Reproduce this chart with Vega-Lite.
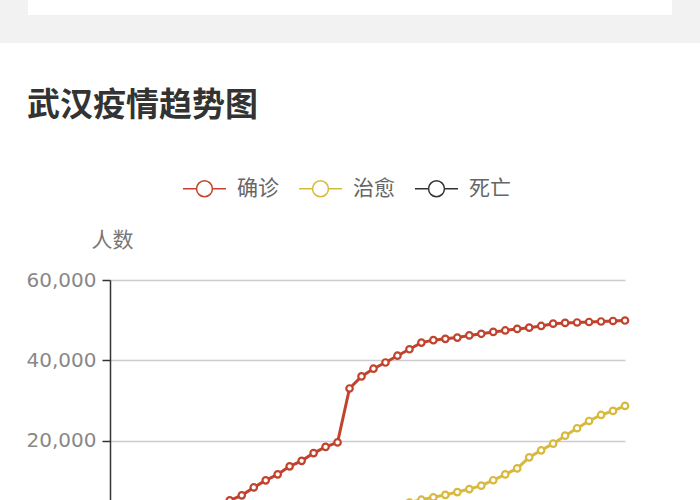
{
  "$schema": "https://vega.github.io/schema/vega-lite/v6.json",
  "background": "white",
  "padding": {"left": 0, "top": -45, "right": 0, "bottom": 0},
  "columns": 1,
  "spacing": 47,
  "resolve": {
    "scale": {"color": "independent", "x": "independent", "y": "independent"},
    "legend": {"color": "independent"}
  },
  "config": {
    "font": "Noto Sans CJK SC",
    "view": {"stroke": null}
  },
  "concat": [
    {
      "width": 672,
      "height": 60,
      "view": {"fill": "white", "stroke": "#f2f2f2", "strokeWidth": 28},
      "data": {"values": [{}]},
      "mark": {"type": "text"},
      "encoding": {"text": {"value": ""}}
    },
    {
      "width": 672,
      "height": 241,
      "view": {"stroke": null},
      "title": {
        "text": "武汉疫情趋势图",
        "anchor": "start",
        "frame": "group",
        "dx": 13,
        "fontSize": 33,
        "fontWeight": "bold",
        "color": "#333333",
        "offset": 43
      },
      "data": {
        "values": [
          {"date": "1.23", "确诊": 495, "治愈": 25, "死亡": 23},
          {"date": "1.24", "确诊": 572, "治愈": 28, "死亡": 38},
          {"date": "1.25", "确诊": 618, "治愈": 31, "死亡": 45},
          {"date": "1.26", "确诊": 698, "治愈": 32, "死亡": 63},
          {"date": "1.27", "确诊": 1590, "治愈": 42, "死亡": 85},
          {"date": "1.28", "确诊": 1905, "治愈": 47, "死亡": 104},
          {"date": "1.29", "确诊": 2261, "治愈": 60, "死亡": 129},
          {"date": "1.30", "确诊": 2639, "治愈": 88, "死亡": 159},
          {"date": "1.31", "确诊": 3215, "治愈": 124, "死亡": 192},
          {"date": "2.1", "确诊": 4109, "治愈": 166, "死亡": 224},
          {"date": "2.2", "确诊": 5142, "治愈": 224, "死亡": 265},
          {"date": "2.3", "确诊": 6384, "治愈": 303, "死亡": 313},
          {"date": "2.4", "确诊": 8351, "治愈": 372, "死亡": 362},
          {"date": "2.5", "确诊": 10117, "治愈": 455, "死亡": 414},
          {"date": "2.6", "确诊": 11618, "治愈": 568, "死亡": 478},
          {"date": "2.7", "确诊": 13603, "治愈": 758, "死亡": 545},
          {"date": "2.8", "确诊": 14982, "治愈": 943, "死亡": 608},
          {"date": "2.9", "确诊": 16902, "治愈": 1206, "死亡": 681},
          {"date": "2.10", "确诊": 18454, "治愈": 1439, "死亡": 748},
          {"date": "2.11", "确诊": 19558, "治愈": 1800, "死亡": 820},
          {"date": "2.12", "确诊": 32994, "治愈": 2169, "死亡": 1016},
          {"date": "2.13", "确诊": 35991, "治愈": 2616, "死亡": 1036},
          {"date": "2.14", "确诊": 37914, "治愈": 3209, "死亡": 1123},
          {"date": "2.15", "确诊": 39462, "治愈": 3708, "死亡": 1233},
          {"date": "2.16", "确诊": 41152, "治愈": 4131, "死亡": 1309},
          {"date": "2.17", "确诊": 42752, "治愈": 4600, "死亡": 1381},
          {"date": "2.18", "确诊": 44412, "治愈": 5300, "死亡": 1497},
          {"date": "2.19", "确诊": 45027, "治愈": 5900, "死亡": 1585},
          {"date": "2.20", "确诊": 45346, "治愈": 6500, "死亡": 1774},
          {"date": "2.21", "确诊": 45660, "治愈": 7200, "死亡": 1856},
          {"date": "2.22", "确诊": 46201, "治愈": 7950, "死亡": 1987},
          {"date": "2.23", "确诊": 46607, "治愈": 8800, "死亡": 2043},
          {"date": "2.24", "确诊": 47071, "治愈": 10150, "死亡": 2085},
          {"date": "2.25", "确诊": 47441, "治愈": 11600, "死亡": 2104},
          {"date": "2.26", "确诊": 47824, "治愈": 13100, "死亡": 2132},
          {"date": "2.27", "确诊": 48137, "治愈": 15850, "死亡": 2169},
          {"date": "2.28", "确诊": 48557, "治愈": 17600, "死亡": 2195},
          {"date": "2.29", "确诊": 49122, "治愈": 19260, "死亡": 2227},
          {"date": "3.1", "确诊": 49315, "治愈": 21250, "死亡": 2251},
          {"date": "3.2", "确诊": 49426, "治愈": 23100, "死亡": 2282},
          {"date": "3.3", "确诊": 49540, "治愈": 24900, "死亡": 2305},
          {"date": "3.4", "确诊": 49671, "治愈": 26400, "死亡": 2328},
          {"date": "3.5", "确诊": 49797, "治愈": 27400, "死亡": 2349},
          {"date": "3.6", "确诊": 49912, "治愈": 28650, "死亡": 2370}
        ]
      },
      "transform": [
        {"fold": ["确诊", "治愈", "死亡"], "as": ["类型", "人数"]}
      ],
      "mark": {
        "type": "line",
        "strokeWidth": 3,
        "point": {"filled": false, "fill": "white", "size": 42, "strokeWidth": 2.2}
      },
      "encoding": {
        "x": {
          "field": "date",
          "type": "ordinal",
          "sort": null,
          "scale": {"type": "point", "padding": 0, "range": [96, 611]},
          "axis": {
            "title": null,
            "labels": false,
            "ticks": false,
            "domainColor": "#333333",
            "domainWidth": 1.5
          }
        },
        "y": {
          "field": "人数",
          "type": "quantitative",
          "scale": {"domain": [0, 60000], "nice": false},
          "axis": {
            "offset": -96,
            "title": "人数",
            "titleAngle": 0,
            "titleX": 2,
            "titleY": -40,
            "titleAlign": "center",
            "titleBaseline": "middle",
            "titleFontSize": 21,
            "titleFontWeight": "normal",
            "titleColor": "#777777",
            "values": [0, 20000, 40000, 60000],
            "format": ",.0f",
            "labelFont": "DejaVu Sans",
            "labelFontSize": 20,
            "labelColor": "#888888",
            "labelPadding": 6,
            "tickSize": 8,
            "tickWidth": 1.5,
            "tickColor": "#333333",
            "domainColor": "#333333",
            "domainWidth": 1.5,
            "gridColor": "#cccccc",
            "gridWidth": 1.5
          }
        },
        "color": {
          "field": "类型",
          "type": "nominal",
          "scale": {
            "domain": ["确诊", "治愈", "死亡"],
            "range": ["#c1432d", "#d9b93c", "#333333"]
          },
          "legend": {
            "title": null,
            "orient": "none",
            "direction": "horizontal",
            "legendX": 168,
            "legendY": -114,
            "symbolType": "M-1,0L-0.37,0M0.37,0L1,0M-0.37,0A0.37,0.37,0,1,0,0.37,0A0.37,0.37,0,1,0,-0.37,0",
            "symbolSize": 1849,
            "symbolStrokeWidth": 1.5,
            "labelFontSize": 21,
            "labelColor": "#666666",
            "labelOffset": 10,
            "columnPadding": 17,
            "encode": {
              "symbols": {
                "update": {
                  "fill": {"value": "white"},
                  "stroke": {"scale": "color", "field": "value"},
                  "strokeWidth": {"value": 1.5}
                }
              }
            }
          }
        }
      }
    }
  ]
}
